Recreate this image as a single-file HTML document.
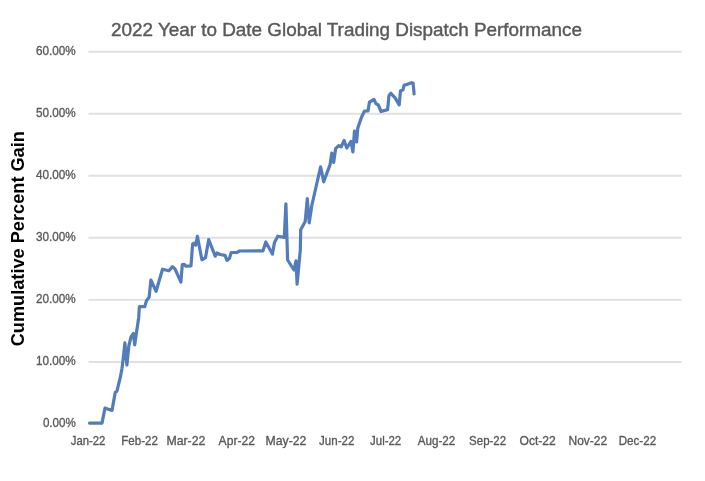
<!DOCTYPE html>
<html><head><meta charset="utf-8"><style>
html,body{margin:0;padding:0;background:#fff;}
body{width:705px;height:481px;overflow:hidden;}
svg{display:block;filter:blur(0.4px);}
.t{font-family:"Liberation Sans",sans-serif;font-size:13px;fill:#595959;stroke:#595959;stroke-width:0.35px;}
.title{font-family:"Liberation Sans",sans-serif;font-size:18px;fill:#595959;stroke:#595959;stroke-width:0.4px;}
.ytitle{font-family:"Liberation Sans",sans-serif;font-size:18px;font-weight:bold;fill:#000;}
</style></head><body>
<svg width="705" height="481" viewBox="0 0 705 481">
<line x1="88.5" y1="51.8" x2="681.5" y2="51.8" stroke="#e0e0e0" stroke-width="1.9"/>
<line x1="88.5" y1="113.7" x2="681.5" y2="113.7" stroke="#e0e0e0" stroke-width="1.9"/>
<line x1="88.5" y1="175.7" x2="681.5" y2="175.7" stroke="#e0e0e0" stroke-width="1.9"/>
<line x1="88.5" y1="237.7" x2="681.5" y2="237.7" stroke="#e0e0e0" stroke-width="1.9"/>
<line x1="88.5" y1="299.9" x2="681.5" y2="299.9" stroke="#e0e0e0" stroke-width="1.9"/>
<line x1="88.5" y1="362" x2="681.5" y2="362" stroke="#e0e0e0" stroke-width="1.9"/>
<text x="36.0" y="55.2" class="t" textLength="39.8" lengthAdjust="spacingAndGlyphs">60.00%</text>
<text x="36.0" y="117.1" class="t" textLength="39.8" lengthAdjust="spacingAndGlyphs">50.00%</text>
<text x="36.0" y="179.0" class="t" textLength="39.8" lengthAdjust="spacingAndGlyphs">40.00%</text>
<text x="36.0" y="241.0" class="t" textLength="39.8" lengthAdjust="spacingAndGlyphs">30.00%</text>
<text x="36.0" y="303.0" class="t" textLength="39.8" lengthAdjust="spacingAndGlyphs">20.00%</text>
<text x="36.0" y="365.1" class="t" textLength="39.8" lengthAdjust="spacingAndGlyphs">10.00%</text>
<text x="42.9" y="426.6" class="t" textLength="32.9" lengthAdjust="spacingAndGlyphs">0.00%</text>
<text x="70.8" y="445.3" class="t" textLength="34.6" lengthAdjust="spacingAndGlyphs">Jan-22</text>
<text x="121.3" y="445.3" class="t" textLength="36.7" lengthAdjust="spacingAndGlyphs">Feb-22</text>
<text x="166.4" y="445.3" class="t" textLength="39.0" lengthAdjust="spacingAndGlyphs">Mar-22</text>
<text x="218.6" y="445.3" class="t" textLength="36.3" lengthAdjust="spacingAndGlyphs">Apr-22</text>
<text x="265.5" y="445.3" class="t" textLength="40.9" lengthAdjust="spacingAndGlyphs">May-22</text>
<text x="319.1" y="445.3" class="t" textLength="35.2" lengthAdjust="spacingAndGlyphs">Jun-22</text>
<text x="370.1" y="445.3" class="t" textLength="31.1" lengthAdjust="spacingAndGlyphs">Jul-22</text>
<text x="417.8" y="445.3" class="t" textLength="37.5" lengthAdjust="spacingAndGlyphs">Aug-22</text>
<text x="469.1" y="445.3" class="t" textLength="37.0" lengthAdjust="spacingAndGlyphs">Sep-22</text>
<text x="519.5" y="445.3" class="t" textLength="36.3" lengthAdjust="spacingAndGlyphs">Oct-22</text>
<text x="568.5" y="445.3" class="t" textLength="38.6" lengthAdjust="spacingAndGlyphs">Nov-22</text>
<text x="618.7" y="445.3" class="t" textLength="37.5" lengthAdjust="spacingAndGlyphs">Dec-22</text>
<text x="111" y="36.3" class="title" textLength="471" lengthAdjust="spacingAndGlyphs">2022 Year to Date Global Trading Dispatch Performance</text>
<text transform="translate(23.6,346.3) rotate(-90)" x="0" y="0" class="ytitle" textLength="215.2" lengthAdjust="spacingAndGlyphs">Cumulative Percent Gain</text>
<path d="M89.5 423.1 L102 423.1 L105 408 L107.5 409 L112 410.4 L115.2 392.6 L116.9 391.2 L120.4 377 L122 368.2 L123 360.4 L124.9 342.8 L126.9 365 L128.8 346 L131 337 L133.4 333.5 L134.7 344.8 L138.7 317.4 L139.4 306.6 L144.8 306.7 L146.4 300.8 L149.1 297.3 L150.9 280 L156.1 291.3 L162.5 269.2 L168.9 270.8 L172.5 266.6 L175.1 269.2 L180.9 282.2 L182.3 264.5 L184.2 264.3 L185.8 266.1 L191 265.9 L192.6 244.2 L194.1 243.2 L195.7 245.3 L197.4 236.4 L201.9 259.8 L205.5 257.7 L208.7 239.6 L215.2 256.2 L217.1 252.9 L220 254.5 L225 255.4 L227 260.4 L229.5 258.3 L231.2 252.5 L234.9 252.5 L236.6 252.7 L239.5 251 L262.9 250.9 L265.8 242 L272.4 254.1 L274.5 242.4 L277.8 236.2 L284.3 237.4 L285.9 203.8 L287.6 260 L294 270 L296 260.8 L297.1 284.1 L300.3 250 L300.7 229.8 L305.2 221.5 L307.3 198.6 L309.2 223 L311.8 205.5 L320.6 166.8 L323.7 181.8 L330 164.9 L331.8 153.1 L333.7 162.4 L335.6 148.7 L338.7 145.6 L341.2 146.8 L344.1 140.5 L346.8 148 L351 141.4 L352.9 152 L354.5 131.2 L356.6 142 L357.8 128 L361.5 117.2 L364.5 111 L368 111 L369.4 102.2 L374 99.5 L375.9 103.6 L378.3 105 L381.1 111.5 L387.6 109.6 L389 95.6 L390.9 93.3 L395.1 97.9 L399.2 104.9 L400.5 90.7 L403 90 L404.1 85 L406.7 84.6 L411.6 82.7 L413.1 83.1 L414.1 94" fill="none" stroke="#527dba" stroke-width="3.2" stroke-linejoin="round" stroke-linecap="round"/>
</svg>
</body></html>
